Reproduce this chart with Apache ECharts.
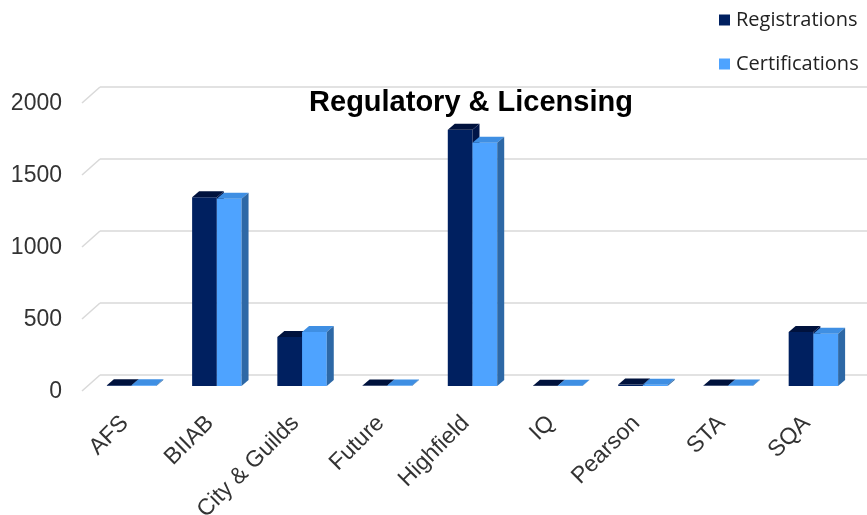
<!DOCTYPE html>
<html>
<head>
<meta charset="utf-8">
<script src="https://cdn.jsdelivr.net/npm/echarts@6/dist/echarts.min.js"></script>
<style>
  html, body { margin: 0; padding: 0; background: #fff; }
  #chart { width: 867px; height: 515px; }
</style>
</head>
<body>
<div id="chart"></div>
<script>
const categories = ['AFS', 'BIIAB', 'City & Guilds', 'Future', 'Highfield', 'IQ', 'Pearson', 'STA', 'SQA'];
const registrations = [5, 1310, 340, 3, 1780, 2, 10, 3, 375];
const certifications = [5, 1300, 375, 3, 1690, 2, 8, 3, 362];
const yTicks = [0, 500, 1000, 1500, 2000];

// 3d look: bars sit a bit in front of the back wall
const wallShift = [-11, 11];
const depth = [7, -6];

const faces = {
  Registrations: { front: '#002060', top: '#00123d', side: '#001548' },
  Certifications: { front: '#4ea3ff', top: '#3f8fe3', side: '#2d68a6' }
};

function boxItem(slot) {
  return function (params, api) {
    const c = faces[params.seriesName];
    const base = api.coord([api.value(0), 0]);
    const top = api.coord([api.value(0), api.value(1)]);
    const band = api.size([1, 0])[0];
    const bw = band * 0.29;
    const x0 = base[0] + wallShift[0] + (slot === 0 ? -bw : 0);
    const yB = base[1] + wallShift[1];
    const yT = top[1] + wallShift[1];
    const dx = depth[0], dy = depth[1];
    return {
      type: 'group',
      children: [
        { type: 'rect', shape: { x: x0, y: yT, width: bw, height: yB - yT }, style: { fill: c.front } },
        { type: 'polygon', shape: { points: [[x0, yT], [x0 + dx, yT + dy], [x0 + bw + dx, yT + dy], [x0 + bw, yT]] }, style: { fill: c.top } },
        { type: 'polygon', shape: { points: [[x0 + bw, yT], [x0 + bw + dx, yT + dy], [x0 + bw + dx, yB + dy], [x0 + bw, yB]] }, style: { fill: c.side } }
      ]
    };
  };
}

const chart = echarts.init(document.getElementById('chart'));
chart.setOption({
  animation: false,
  title: {
    text: 'Regulatory & Licensing',
    left: 466, top: 83, textAlign: 'center',
    textStyle: { fontFamily: 'Liberation Sans', fontWeight: 'bold', fontSize: 29, color: '#000' }
  },
  legend: {
    orient: 'vertical', left: 714, top: 5, itemGap: 24,
    icon: 'rect', itemWidth: 11, itemHeight: 11,
    data: ['Registrations', 'Certifications'],
    textStyle: { fontFamily: 'Open Sans', fontSize: 20, color: '#222', padding: [0, 0, 0, 1] }
  },
  grid: { left: 100, right: 0, top: 87, bottom: 140, outerBoundsMode: 'none' },
  xAxis: {
    type: 'category', data: categories,
    axisLine: { show: false }, axisTick: { show: false },
    axisLabel: {
      rotate: 45, interval: 0, margin: 27, padding: [0, 25, 0, 0],
      fontFamily: 'Liberation Sans', fontSize: 23, color: '#333'
    }
  },
  yAxis: {
    type: 'value', min: 0, max: 2000, interval: 500,
    axisLine: { show: false }, axisTick: { show: false },
    axisLabel: {
      margin: 38,
      formatter: function (v) { return '{v|' + v + '}'; },
      rich: { v: { fontFamily: 'Liberation Sans', fontSize: 23, color: '#333', padding: [34, 0, 0, 0] } }
    },
    splitLine: { lineStyle: { color: '#d9d9d9', width: 1.5 } }
  },
  series: [
    {
      type: 'custom', silent: true,
      data: yTicks.map(v => [0, v]),
      renderItem: function (params, api) {
        const p = api.coord([0, api.value(1)]);
        const x = params.coordSys.x;
        return { type: 'line', shape: { x1: x - 18, y1: p[1] + 16, x2: x, y2: p[1] }, style: { stroke: '#d9d9d9', lineWidth: 1.5 } };
      }
    },
    {
      name: 'Registrations', type: 'custom',
      itemStyle: { color: faces.Registrations.front },
      data: registrations.map((v, i) => [i, v]),
      renderItem: boxItem(0)
    },
    {
      name: 'Certifications', type: 'custom',
      itemStyle: { color: faces.Certifications.front },
      data: certifications.map((v, i) => [i, v]),
      renderItem: boxItem(1)
    }
  ]
});
</script>
</body>
</html>
